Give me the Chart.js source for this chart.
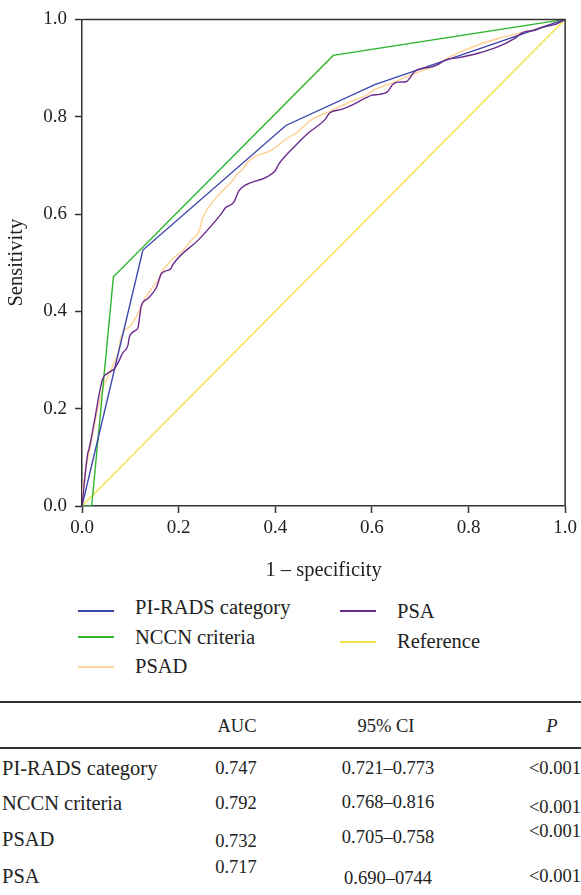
<!DOCTYPE html>
<html>
<head>
<meta charset="utf-8">
<script src="https://cdn.jsdelivr.net/npm/chart.js@4.4.1/dist/chart.umd.min.js"></script>
<style>
  html, body { margin:0; padding:0; background:#fff; }
  body { width:581px; height:895px; position:relative; overflow:hidden; font-family:"Liberation Serif", "DejaVu Serif", serif; color:#222; }
  #c { position:absolute; left:0; top:0; }
  .t { position:absolute; white-space:nowrap; line-height:24px; height:24px; }
  .ln { position:absolute; height:1.5px; }
  .rule { position:absolute; left:0; width:581px; height:1.5px; background:#333; }
</style>
</head>
<body>
<canvas id="c" width="581" height="590"></canvas>
<div id="extra"></div>
<script>
// ---- data ----
const seriesNames = ["PI-RADS category", "NCCN criteria", "PSAD", "PSA", "Reference"];

const piradsX = [0, 0.126, 0.422, 0.606, 1];
const piradsY = [0, 0.526, 0.782, 0.866, 1];

const nccnX = [0, 0.02, 0.065, 0.52, 1];
const nccnY = [0, 0, 0.471, 0.926, 1];

const psadX = [0, 0.002, 0.016, 0.029, 0.043, 0.053, 0.064, 0.074, 0.081, 0.088, 0.099, 0.112, 0.129, 0.143, 0.157, 0.167, 0.181, 0.191, 0.212, 0.225, 0.239, 0.244, 0.249, 0.270, 0.297, 0.311, 0.318, 0.335, 0.342, 0.356, 0.390, 0.421, 0.448, 0.475, 0.513, 0.558, 0.592, 0.602, 0.633, 0.674, 0.709, 0.736, 0.756, 0.818, 0.859, 0.900, 0.941, 1];
const psadY = [0, 0.033, 0.115, 0.183, 0.241, 0.265, 0.289, 0.313, 0.347, 0.361, 0.369, 0.388, 0.424, 0.446, 0.463, 0.484, 0.501, 0.511, 0.528, 0.545, 0.559, 0.569, 0.590, 0.624, 0.654, 0.668, 0.678, 0.695, 0.706, 0.717, 0.730, 0.753, 0.770, 0.794, 0.811, 0.832, 0.846, 0.854, 0.866, 0.883, 0.897, 0.907, 0.920, 0.947, 0.960, 0.970, 0.981, 1];

const psaX = [0, 0.012, 0.014, 0.026, 0.036, 0.043, 0.053, 0.066, 0.074, 0.084, 0.095, 0.098, 0.111, 0.116, 0.123, 0.136, 0.154, 0.164, 0.171, 0.184, 0.188, 0.243, 0.290, 0.297, 0.314, 0.325, 0.339, 0.380, 0.400, 0.407, 0.441, 0.469, 0.503, 0.513, 0.537, 0.561, 0.588, 0.599, 0.616, 0.633, 0.643, 0.654, 0.671, 0.681, 0.688, 0.709, 0.722, 0.736, 0.753, 0.777, 0.818, 0.859, 0.894, 0.914, 0.935, 0.955, 0.983, 1];
const psaY = [0, 0.109, 0.115, 0.176, 0.232, 0.262, 0.273, 0.281, 0.293, 0.314, 0.330, 0.347, 0.361, 0.367, 0.412, 0.426, 0.449, 0.477, 0.482, 0.488, 0.496, 0.549, 0.603, 0.613, 0.624, 0.648, 0.660, 0.675, 0.689, 0.702, 0.740, 0.767, 0.794, 0.808, 0.815, 0.825, 0.839, 0.844, 0.846, 0.852, 0.866, 0.871, 0.872, 0.883, 0.893, 0.900, 0.902, 0.907, 0.917, 0.921, 0.930, 0.943, 0.960, 0.974, 0.977, 0.984, 0.991, 1];

const refX = [0, 1];
const refY = [0, 1];

const axisTicks = [0, 0.2, 0.4, 0.6, 0.8, 1.0];

// table
const tableHeader = ["", "AUC", "95% CI", "P"];
const tableLabels = ["PI-RADS category", "NCCN criteria", "PSAD", "PSA"];
const tableAUC = ["0.747", "0.792", "0.732", "0.717"];
const tableCI = ["0.721\u20130.773", "0.768\u20130.816", "0.705\u20130.758", "0.690\u20130744"];
const tableP = ["<0.001", "<0.001", "<0.001", "<0.001"];

// ---- build ----
const colors = ["#3b47ad", "#2fb52f", "#fdd49c", "#6a2b8f", "#f2e24a"];
const xs = [piradsX, nccnX, psadX, psaX, refX];
const ys = [piradsY, nccnY, psadY, psaY, refY];
const pts = (a, b) => a.map((v, i) => ({x: v, y: b[i]}));

const order = [1, 2, 3, 0, 4]; // draw order (lower = on top)
const datasets = seriesNames.map((n, i) => ({
  label: n,
  data: pts(xs[i], ys[i]),
  borderColor: colors[i],
  backgroundColor: colors[i],
  borderWidth: i === 2 ? 1.6 : 1.4,
  pointRadius: 0,
  showLine: true,
  fill: false,
  cubicInterpolationMode: (i === 2 || i === 3) ? 'monotone' : 'default',
  tension: 0,
  order: order[i]
}));

const frame = {
  id: 'frame',
  afterDraw(chart) {
    const {ctx, chartArea: a} = chart;
    ctx.save();
    ctx.strokeStyle = '#333';
    ctx.lineWidth = 1.5;
    ctx.beginPath();
    ctx.moveTo(a.left, a.top);
    ctx.lineTo(a.right, a.top);
    ctx.lineTo(a.right, a.bottom);
    ctx.stroke();
    ctx.restore();
  }
};

const serif = "'Liberation Serif', 'DejaVu Serif', serif";
const tickFont = {family: serif, size: 19};
const titleFont = {family: serif, size: 20.5};

function axis(title, fitKey, fitVal, titlePad, tickPad) {
  return {
    type: 'linear', min: 0, max: 1,
    afterBuildTicks: s => { s.ticks = axisTicks.map(v => ({value: v})); },
    afterFit: s => { s[fitKey] = fitVal; },
    ticks: { font: tickFont, color: '#222', padding: tickPad, callback: v => v.toFixed(1), maxRotation: 0, autoSkip: false },
    grid: { drawOnChartArea: false, drawTicks: true, tickLength: 7, tickColor: '#333', tickWidth: 1.5 },
    border: { display: true, color: '#333', width: 1.5 },
    title: { display: true, text: title, font: titleFont, color: '#222', padding: titlePad }
  };
}

new Chart(document.getElementById('c'), {
  type: 'scatter',
  data: { datasets },
  options: {
    responsive: false,
    animation: false,
    devicePixelRatio: 1,
    layout: { padding: { left: 0, right: 12, top: 18, bottom: 0 } },
    plugins: { legend: { display: false }, tooltip: { enabled: false } },
    scales: {
      x: axis('1 \u2013 specificity', 'height', 84, {top: 0, bottom: 7}, 4),
      y: axis('Sensitivity', 'width', 82, {top: 4, bottom: 0}, 8)
    }
  },
  plugins: [frame]
});

// ---- legend (HTML) ----
const extra = document.getElementById('extra');
function text(str, x, cy, align, size, italic) {
  const d = document.createElement('div');
  d.className = 't';
  d.textContent = str;
  d.style.fontSize = size + 'px';
  if (italic) d.style.fontStyle = 'italic';
  d.style.top = (cy - 12) + 'px';
  if (align === 'left') d.style.left = x + 'px';
  else if (align === 'right') d.style.right = (581 - x) + 'px';
  else { d.style.left = (x - 150) + 'px'; d.style.width = '300px'; d.style.textAlign = 'center'; }
  extra.appendChild(d);
}
const legendPos = [
  {lx: 78, tx: 135, ly: 611, ty: 607},
  {lx: 78, tx: 135, ly: 637, ty: 637},
  {lx: 78, tx: 135, ly: 667, ty: 666},
  {lx: 340, tx: 397, ly: 611, ty: 611},
  {lx: 340, tx: 397, ly: 642, ty: 641}
];
seriesNames.forEach((n, i) => {
  const p = legendPos[i];
  const l = document.createElement('div');
  l.className = 'ln';
  l.style.left = p.lx + 'px';
  l.style.width = '36px';
  l.style.top = (p.ly - 0.75) + 'px';
  l.style.background = colors[i];
  extra.appendChild(l);
  text(n, p.tx, p.ty, 'left', 20.5);
});

// ---- table (HTML) ----
[702, 748].forEach(y => {
  const r = document.createElement('div');
  r.className = 'rule';
  r.style.top = (y - 0.75) + 'px';
  extra.appendChild(r);
});
text(tableHeader[1], 237, 726, 'center', 18.5);
text(tableHeader[2], 386, 726, 'center', 18.5);
text(tableHeader[3], 552, 726, 'center', 18.5, true);
const rowY = [768, 803, 839, 876];
const aucOff = [0, 0, 2, -9];
const ciOff = [0, -1, -2, 2];
const pOff = [0, 4, -8, 0];
tableLabels.forEach((lab, i) => {
  text(lab, 2, rowY[i], 'left', 20.5);
  text(tableAUC[i], 236, rowY[i] + aucOff[i], 'center', 18.5);
  text(tableCI[i], 388, rowY[i] + ciOff[i], 'center', 18.5);
  text(tableP[i], 581, rowY[i] + pOff[i], 'right', 18.5);
});
</script>
</body>
</html>
